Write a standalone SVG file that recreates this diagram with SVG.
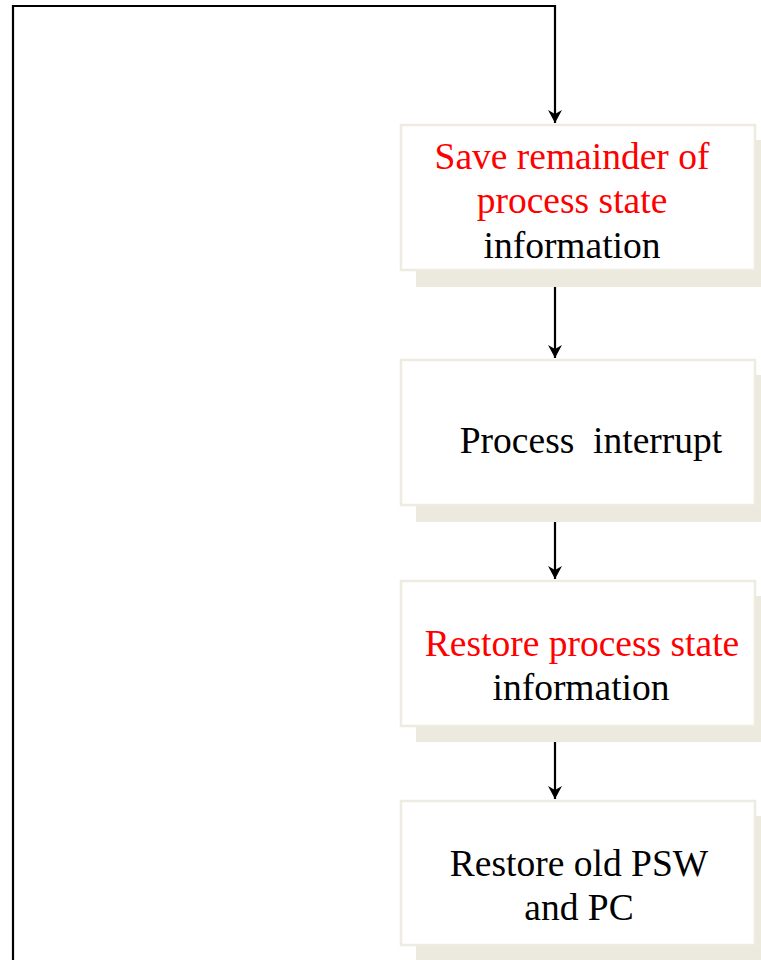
<svg xmlns="http://www.w3.org/2000/svg" width="761" height="960" viewBox="0 0 761 960">
  <style>
    .shadow { fill: #ECE9DF; }
    .box { fill: #FFFFFF; stroke: #EEEBE0; stroke-width: 2.5; }
    .t { font-family: "Liberation Serif", "Times New Roman", serif; font-size: 37.5px; text-anchor: middle; fill: #000000; white-space: pre; }
    .red { fill: #FF0000; }
    .link { fill: none; stroke: #000000; stroke-width: 2.2; }
  </style>
  <defs>
    <marker id="arrow" viewBox="0 0 13 14" refX="13" refY="7" markerWidth="13" markerHeight="14" markerUnits="userSpaceOnUse" orient="auto">
      <path d="M0,0 L13,7 L0,14 L4,7 Z" fill="#000000"/>
    </marker>
  </defs>
  <rect width="761" height="960" fill="#FFFFFF"/>

  <g id="save-state">
    <rect class="shadow" x="416" y="140" width="350" height="147"/>
    <rect class="box" x="401" y="125" width="354" height="145"/>
    <text class="t red" x="572" y="169">Save remainder of</text>
    <text class="t red" x="572" y="213">process state</text>
    <text class="t" x="572" y="258">information</text>
  </g>

  <g id="process-interrupt">
    <rect class="shadow" x="416" y="375" width="350" height="147"/>
    <rect class="box" x="401" y="360" width="354" height="145"/>
    <text class="t" x="591" y="453" xml:space="preserve">Process  interrupt</text>
  </g>

  <g id="restore-state">
    <rect class="shadow" x="416" y="596" width="350" height="146"/>
    <rect class="box" x="401" y="581" width="354" height="145"/>
    <text class="t red" x="582" y="656">Restore process state</text>
    <text class="t" x="581" y="700">information</text>
  </g>

  <g id="restore-psw">
    <rect class="shadow" x="416" y="816" width="350" height="150"/>
    <rect class="box" x="401" y="801" width="354" height="144"/>
    <text class="t" x="579" y="876">Restore old PSW</text>
    <text class="t" x="579" y="920">and PC</text>
  </g>

  <g id="connectors">
    <path class="link" d="M13,960 L13,6 L555,6 L555,123" marker-end="url(#arrow)"/>
    <path class="link" d="M555,287 L555,358" marker-end="url(#arrow)"/>
    <path class="link" d="M555,522 L555,579" marker-end="url(#arrow)"/>
    <path class="link" d="M555,742 L555,799" marker-end="url(#arrow)"/>
  </g>
</svg>
